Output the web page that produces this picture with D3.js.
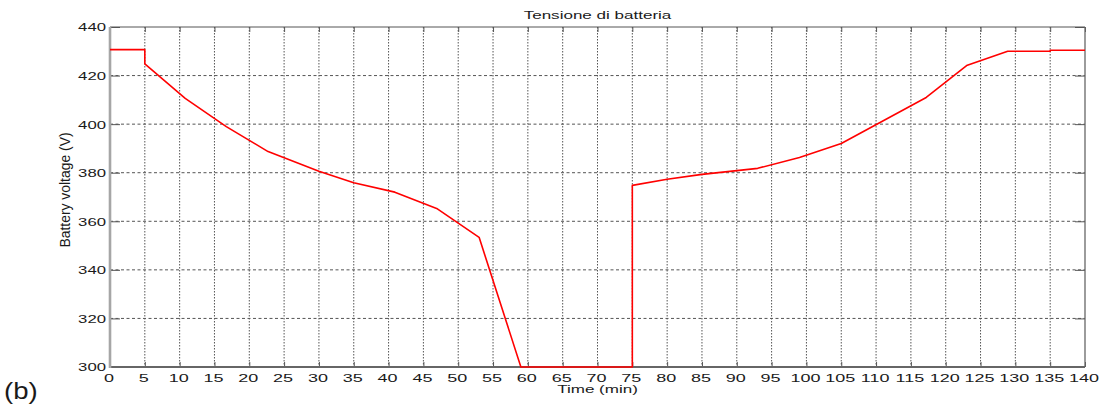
<!DOCTYPE html>
<html>
<head>
<meta charset="utf-8">
<script src="https://cdn.jsdelivr.net/npm/d3@7"></script>
<style>
  body { margin: 0; background: #fff; }
  svg { display: block; }
  text { font-family: "Liberation Sans", Arial, Helvetica, sans-serif; fill: #1a1a1a; }
</style>
</head>
<body>
<svg id="chart" width="1107" height="405"></svg>
<script>
// Battery voltage over time (breakpoints of the piecewise trace)
const timeMin = [0, 5, 5, 10.8, 16.7, 22.7, 30, 35, 40.9, 46.9, 53, 59, 75, 75, 80, 85, 93, 99, 105, 117.2, 123, 128.9, 135, 135, 140];
const voltage = [430.7, 430.7, 424.8, 410.6, 399, 388.7, 380.6, 375.9, 372, 365.3, 353.4, 300, 300, 374.8, 377.3, 379.3, 381.8, 386.3, 392, 411, 424.1, 430, 430, 430.4, 430.4];

const xTicks = [0, 5, 10, 15, 20, 25, 30, 35, 40, 45, 50, 55, 60, 65, 70, 75, 80, 85, 90, 95, 100, 105, 110, 115, 120, 125, 130, 135, 140];
const yTicks = [300, 320, 340, 360, 380, 400, 420, 440];

const titleText = "Tensione di batteria";
const xLabelText = "Time (min)";
const yLabelText = "Battery voltage (V)";
const panelTag = "(b)";

const plot = { left: 110, right: 1085, top: 27, bottom: 367 };
const SX = 1.55; // horizontal glyph stretch of the exported figure

const svg = d3.select("#chart");

const x = d3.scaleLinear().domain([0, 140]).range([plot.left, plot.right]);
const y = d3.scaleLinear().domain([300, 440]).range([plot.bottom, plot.top]);

// grid
const grid = svg.append("g").attr("class", "grid");
grid.selectAll("line.v")
  .data(xTicks.filter(t => t > 0 && t < 140))
  .join("line")
  .attr("x1", d => x(d)).attr("x2", d => x(d))
  .attr("y1", plot.top).attr("y2", plot.bottom)
  .attr("stroke", "#555").attr("stroke-width", 1)
  .attr("stroke-dasharray", "1.5,1.5");
grid.selectAll("line.h")
  .data(yTicks.filter(t => t > 300 && t < 440))
  .join("line")
  .attr("x1", plot.left).attr("x2", plot.right)
  .attr("y1", d => y(d)).attr("y2", d => y(d))
  .attr("stroke", "#555").attr("stroke-width", 1)
  .attr("stroke-dasharray", "3,2.5");

// axes with inward ticks on all four sides
function styleAxis(g) {
  g.select(".domain").remove();
  g.selectAll(".tick line").attr("stroke", "#555").attr("stroke-width", 1);
}

const bottomAxis = svg.append("g")
  .attr("transform", `translate(0,${plot.bottom})`)
  .call(d3.axisBottom(x).tickValues(xTicks).tickSizeInner(-5).tickSizeOuter(0).tickFormat(d3.format("d")))
  .call(styleAxis);
bottomAxis.selectAll(".tick text")
  .attr("y", null).attr("dy", null)
  .attr("text-anchor", "middle")
  .attr("font-size", 11.6)
  .attr("transform", "translate(-1.5,14.5) scale(" + SX + ",1)");

svg.append("g")
  .attr("transform", `translate(0,${plot.top})`)
  .call(d3.axisTop(x).tickValues(xTicks).tickSizeInner(-5).tickSizeOuter(0).tickFormat(""))
  .call(styleAxis);

const leftAxis = svg.append("g")
  .attr("transform", `translate(${plot.left},0)`)
  .call(d3.axisLeft(y).tickValues(yTicks).tickSizeInner(-10).tickSizeOuter(0).tickFormat(d3.format("d")))
  .call(styleAxis);
leftAxis.selectAll(".tick text")
  .attr("x", null).attr("dy", null)
  .attr("text-anchor", "end")
  .attr("font-size", 10.8)
  .attr("transform", "translate(-4,3.9) scale(" + SX + ",1)");

svg.append("g")
  .attr("transform", `translate(${plot.right},0)`)
  .call(d3.axisRight(y).tickValues(yTicks).tickSizeInner(-10).tickSizeOuter(0).tickFormat(""))
  .call(styleAxis);

// plot box
svg.append("line").attr("x1", plot.left).attr("x2", plot.right).attr("y1", plot.top).attr("y2", plot.top)
  .attr("stroke", "#555").attr("stroke-width", 1);
svg.append("line").attr("x1", plot.right).attr("x2", plot.right).attr("y1", plot.top).attr("y2", plot.bottom)
  .attr("stroke", "#666").attr("stroke-width", 1.3);
svg.append("line").attr("x1", plot.left).attr("x2", plot.right).attr("y1", plot.bottom).attr("y2", plot.bottom)
  .attr("stroke", "#666").attr("stroke-width", 1.8);
svg.append("line").attr("x1", plot.left).attr("x2", plot.left).attr("y1", plot.top).attr("y2", plot.bottom + 1)
  .attr("stroke", "#a6a6a6").attr("stroke-width", 2.6);

// voltage trace
const pts = timeMin.map((t, i) => [t, voltage[i]]);
svg.append("path")
  .datum(pts)
  .attr("fill", "none")
  .attr("stroke", "#ff0000")
  .attr("stroke-width", 1.6)
  .attr("stroke-linejoin", "round")
  .attr("d", d3.line().x(d => x(d[0])).y(d => y(d[1])));

// title and axis labels
svg.append("text")
  .attr("text-anchor", "middle")
  .attr("font-size", 11)
  .attr("transform", `translate(${(plot.left + plot.right) / 2},18.5) scale(${SX},1)`)
  .text(titleText);

svg.append("text")
  .attr("text-anchor", "middle")
  .attr("font-size", 11)
  .attr("transform", `translate(${(plot.left + plot.right) / 2},392.5) scale(${SX},1)`)
  .text(xLabelText);

svg.append("text")
  .attr("text-anchor", "middle")
  .attr("font-size", 14.5)
  .attr("transform", `translate(70,${(plot.top + plot.bottom) / 2 - 7}) rotate(-90) scale(0.96,1)`)
  .text(yLabelText);

svg.append("text")
  .attr("text-anchor", "start")
  .attr("font-size", 23)
  .attr("fill", "#000")
  .attr("transform", `translate(4,398.5) scale(1.2,1)`)
  .text(panelTag);
</script>
</body>
</html>
